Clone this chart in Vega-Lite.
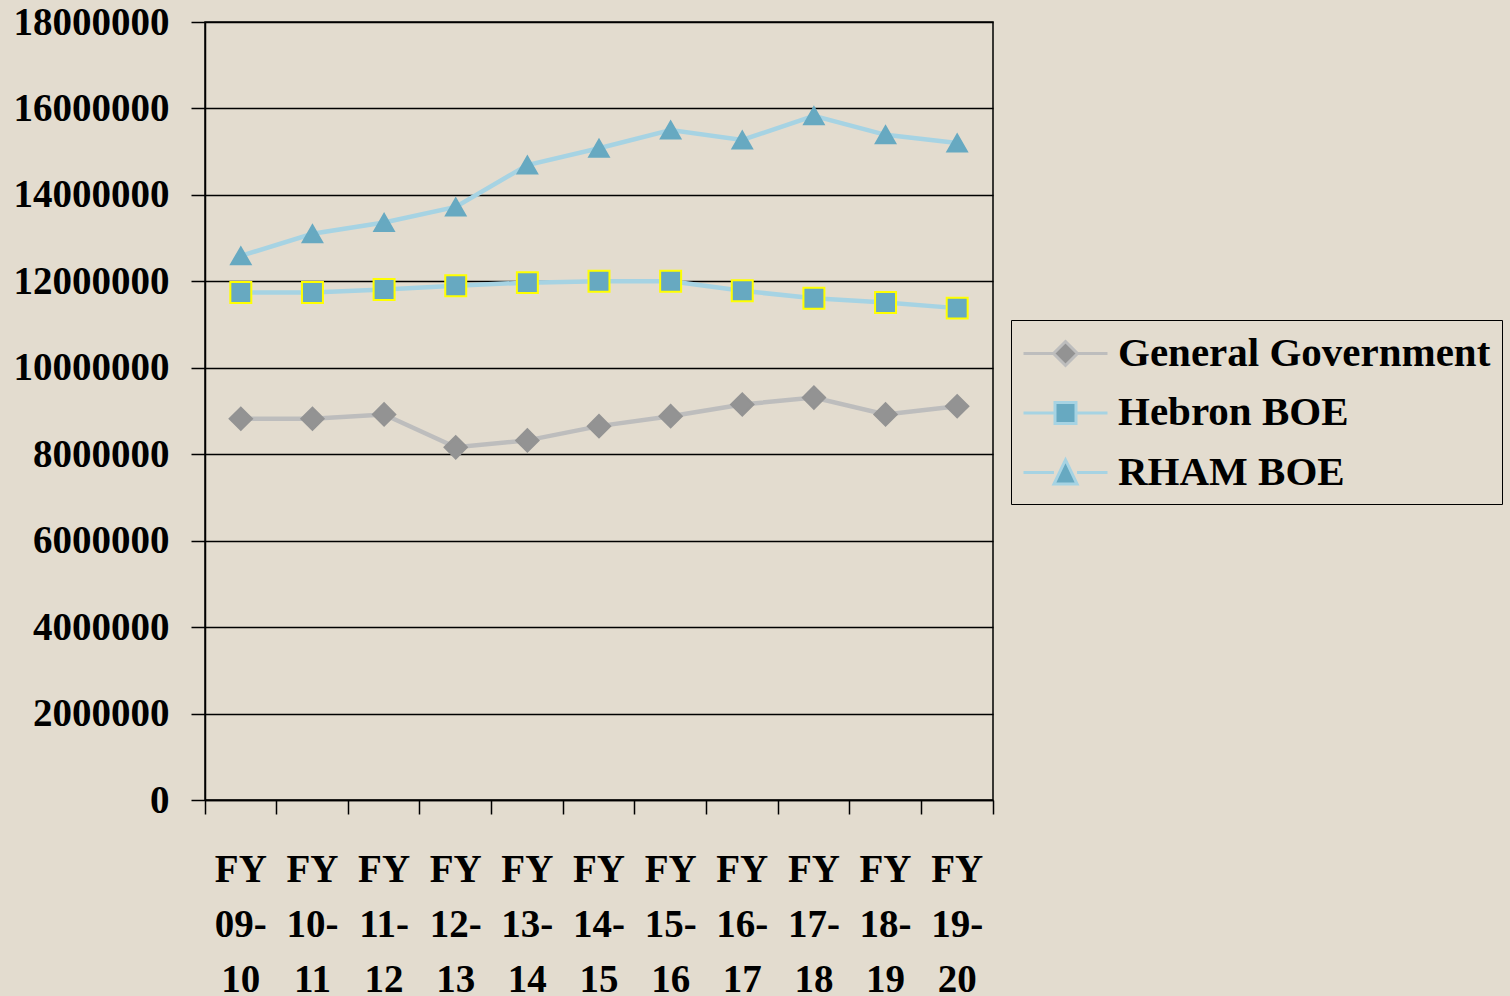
{
  "$schema": "https://vega.github.io/schema/vega-lite/v6.json",
  "background": "#e3dccf",
  "autosize": {"type": "none"},
  "padding": {"left": 205, "top": 22, "right": 517, "bottom": 196},
  "width": 788,
  "height": 778,
  "config": {
    "view": {"stroke": "black", "strokeWidth": 1.5},
    "axis": {
      "labelFont": "Liberation Serif",
      "labelFontWeight": "bold",
      "labelFontSize": 39,
      "labelColor": "black",
      "domainColor": "black",
      "domainWidth": 1.5,
      "tickColor": "black",
      "tickWidth": 1.5,
      "tickSize": 14,
      "title": null
    }
  },
  "data": {
    "values": [
      {"year": "FY 09-10", "series": "General Government", "value": 8820000},
      {"year": "FY 10-11", "series": "General Government", "value": 8820000},
      {"year": "FY 11-12", "series": "General Government", "value": 8920000},
      {"year": "FY 12-13", "series": "General Government", "value": 8160000},
      {"year": "FY 13-14", "series": "General Government", "value": 8320000},
      {"year": "FY 14-15", "series": "General Government", "value": 8650000},
      {"year": "FY 15-16", "series": "General Government", "value": 8880000},
      {"year": "FY 16-17", "series": "General Government", "value": 9150000},
      {"year": "FY 17-18", "series": "General Government", "value": 9310000},
      {"year": "FY 18-19", "series": "General Government", "value": 8920000},
      {"year": "FY 19-20", "series": "General Government", "value": 9110000},
      {"year": "FY 09-10", "series": "Hebron BOE", "value": 11740000},
      {"year": "FY 10-11", "series": "Hebron BOE", "value": 11740000},
      {"year": "FY 11-12", "series": "Hebron BOE", "value": 11810000},
      {"year": "FY 12-13", "series": "Hebron BOE", "value": 11900000},
      {"year": "FY 13-14", "series": "Hebron BOE", "value": 11970000},
      {"year": "FY 14-15", "series": "Hebron BOE", "value": 12000000},
      {"year": "FY 15-16", "series": "Hebron BOE", "value": 12000000},
      {"year": "FY 16-17", "series": "Hebron BOE", "value": 11780000},
      {"year": "FY 17-18", "series": "Hebron BOE", "value": 11610000},
      {"year": "FY 18-19", "series": "Hebron BOE", "value": 11510000},
      {"year": "FY 19-20", "series": "Hebron BOE", "value": 11380000},
      {"year": "FY 09-10", "series": "RHAM BOE", "value": 12590000},
      {"year": "FY 10-11", "series": "RHAM BOE", "value": 13100000},
      {"year": "FY 11-12", "series": "RHAM BOE", "value": 13360000},
      {"year": "FY 12-13", "series": "RHAM BOE", "value": 13720000},
      {"year": "FY 13-14", "series": "RHAM BOE", "value": 14690000},
      {"year": "FY 14-15", "series": "RHAM BOE", "value": 15080000},
      {"year": "FY 15-16", "series": "RHAM BOE", "value": 15500000},
      {"year": "FY 16-17", "series": "RHAM BOE", "value": 15270000},
      {"year": "FY 17-18", "series": "RHAM BOE", "value": 15830000},
      {"year": "FY 18-19", "series": "RHAM BOE", "value": 15390000},
      {"year": "FY 19-20", "series": "RHAM BOE", "value": 15200000}
    ]
  },
  "encoding": {
    "x": {
      "field": "year",
      "type": "ordinal",
      "sort": null,
      "bandPosition": 0.5,
      "scale": {"type": "band", "paddingInner": 0, "paddingOuter": 0},
      "axis": {
        "labelAngle": 0,
        "bandPosition": 1,
        "tickExtra": true,
        "grid": false,
        "labelExpr": "datum.label === '' ? '' : ['FY', slice(datum.label, 3, 6), slice(datum.label, 6)]",
        "labelLineHeight": 55,
        "labelPadding": 36
      }
    },
    "y": {
      "field": "value",
      "type": "quantitative",
      "scale": {"domain": [0, 18000000], "nice": false},
      "axis": {
        "values": [0, 2000000, 4000000, 6000000, 8000000, 10000000, 12000000, 14000000, 16000000, 18000000],
        "format": "d",
        "grid": true,
        "gridColor": "black",
        "gridWidth": 1.5,
        "gridOpacity": 1,
        "labelPadding": 22
      }
    }
  },
  "layer": [
    {
      "mark": {"type": "line", "strokeWidth": 4.5},
      "encoding": {
        "color": {
          "field": "series",
          "type": "nominal",
          "scale": {"range": ["#bdbdbd", "#a6d3e3", "#a6d3e3"]},
          "legend": null
        }
      }
    },
    {
      "mark": {"type": "point", "filled": true, "opacity": 1, "strokeWidth": 2},
      "encoding": {
        "shape": {
          "field": "series",
          "type": "nominal",
          "scale": {"range": ["diamond", "square", "triangle-up"]},
          "legend": null
        },
        "fill": {
          "field": "series",
          "type": "nominal",
          "scale": {"range": ["#939393", "#67a9c1", "#67a9c1"]},
          "legend": null
        },
        "stroke": {
          "field": "series",
          "type": "nominal",
          "scale": {"range": ["#939393", "#ffff00", "#67a9c1"]},
          "legend": null
        },
        "size": {
          "field": "series",
          "type": "nominal",
          "scale": {"range": [500, 380, 620]},
          "legend": null
        }
      }
    },
    {
      "mark": {"type": "point", "filled": true, "opacity": 0, "strokeWidth": 3},
      "encoding": {
        "shape": {
          "field": "series",
          "type": "nominal",
          "scale": {"domain": ["General Government", "Hebron BOE", "RHAM BOE"], "range": ["M-2,0H-0.57M0.57,0H2M0,-0.57L0.57,0L0,0.57L-0.57,0Z", "M-2,0H-0.5M0.5,0H2M-0.5,-0.5H0.5V0.5H-0.5Z", "M-2,0H-0.55M0.55,0H2M0,-0.6L0.55,0.55L-0.55,0.55Z"]},
          "legend": {
            "title": null,
            "orient": "none",
            "legendX": 806,
            "legendY": 298,
            "strokeColor": "black",
            "padding": 11,
            "symbolSize": 1764,
            "symbolOffset": 21,
            "symbolOpacity": 1,
            "symbolStrokeWidth": 3,
            "labelOffset": 30,
            "rowPadding": 16.5,
            "labelFont": "Liberation Serif",
            "labelFontWeight": "bold",
            "labelFontSize": 41,
            "labelColor": "black",
            "labelLimit": 600
          }
        },
        "fill": {
          "field": "series",
          "type": "nominal",
          "scale": {"domain": ["General Government", "Hebron BOE", "RHAM BOE"], "range": ["#939393", "#67a9c1", "#67a9c1"]}
        },
        "stroke": {
          "field": "series",
          "type": "nominal",
          "scale": {"domain": ["General Government", "Hebron BOE", "RHAM BOE"], "range": ["#bdbdbd", "#a6d3e3", "#a6d3e3"]}
        }
      }
    }
  ],
  "resolve": {"scale": {"shape": "independent", "fill": "independent", "stroke": "independent"}}
}
